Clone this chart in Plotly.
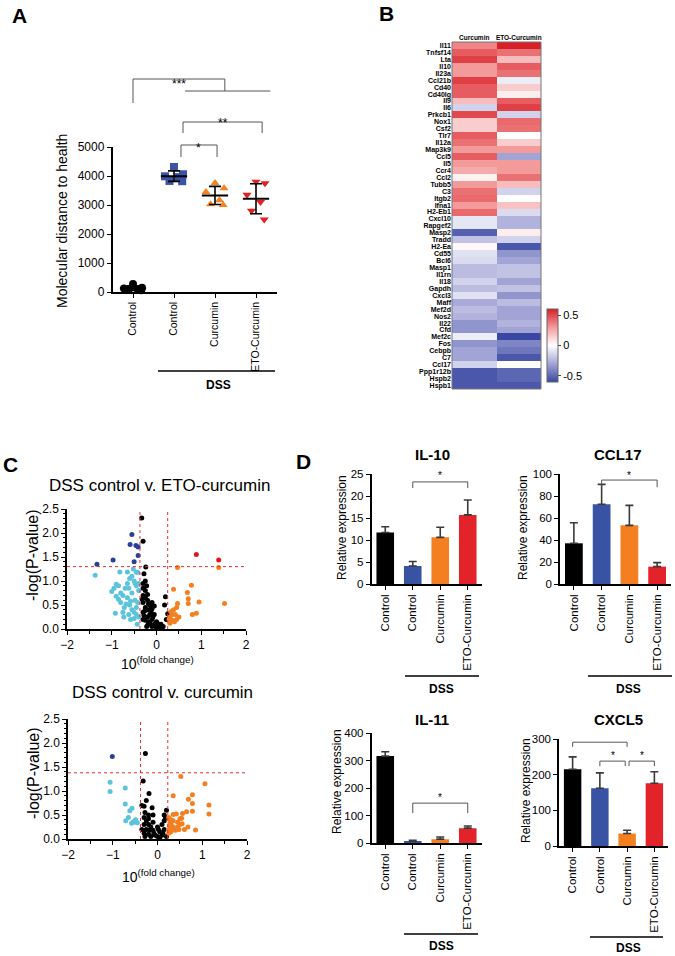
import plotly.graph_objects as go
import numpy as np

W, H = 675, 956
FONT = "Liberation Sans, Arial, sans-serif"


def px(x):
    return x / W


def py(y):
    return 1 - y / H


# ---------------- Panel A data ----------------
a_tick_labels = ["Control", "Control", "Curcumin", "ETO-Curcumin"]
a_healthy = [280, 150, 120, 100, 80, 60]
a_dss_control = [4310, 4060, 3990, 3960, 3830, 3820]
a_curcumin = [3760, 3580, 3450, 3160, 3000, 3030]
a_eto = [3800, 3750, 3350, 3100, 2800, 2500]
a_colors = ["#000000", "#3a53a4", "#f58220", "#e31e24"]
a_symbols = ["circle", "square", "triangle-up", "triangle-down"]

# ---------------- Panel B data ----------------
genes = ["Il11", "Tnfsf14", "Lta", "Il10", "Il23a", "Ccl21b", "Cd40", "Cd40lg", "Il9", "Il6",
         "Prkcb1", "Nox1", "Csf2", "Tlr7", "Il12a", "Map3k9", "Ccl5", "Il5", "Ccr4", "Ccl2",
         "Tubb5", "C3", "Itgb2", "Ifna1", "H2-Eb1", "Cxcl10", "Rapgef2", "Masp2", "Tradd", "H2-Ea",
         "Cd55", "Bcl6", "Masp1", "Il1rn", "Il18", "Gapdh", "Cxcl3", "Maff", "Mef2d", "Nos2",
         "Il22", "Cfd", "Mef2c", "Fos", "Cebpb", "C7", "Ccl17", "Ppp1r12b", "Hspb2", "Hspb1"]
heat_columns = ["Curcumin", "ETO-Curcumin"]
heat_curcumin = [0.35, 0.45, 0.52, 0.30, 0.30, 0.52, 0.45, 0.45, 0.20, -0.15,
                 0.50, 0.15, 0.15, 0.45, 0.40, 0.30, 0.45, 0.30, 0.25, 0.04,
                 0.30, 0.40, 0.42, 0.30, 0.42, -0.08, -0.08, -0.52, -0.20, 0.02,
                 -0.10, -0.12, -0.22, -0.22, -0.15, -0.22, -0.10, -0.28, -0.22, -0.25,
                 -0.35, -0.35, -0.06, -0.35, -0.30, -0.30, -0.15, -0.55, -0.55, -0.55]
heat_eto = [0.62, 0.40, 0.20, 0.45, 0.40, -0.06, 0.15, 0.05, 0.45, 0.52,
            -0.15, 0.42, 0.40, 0.00, 0.15, 0.30, -0.30, 0.30, 0.30, 0.40,
            0.20, -0.15, 0.00, 0.18, -0.12, -0.25, -0.25, 0.05, -0.15, -0.55,
            -0.35, -0.30, -0.20, -0.20, -0.30, -0.20, -0.35, -0.22, -0.30, -0.30,
            -0.25, -0.30, -0.60, -0.40, -0.45, -0.55, 0.00, -0.50, -0.50, -0.55]

# ---------------- Panel C data (fold change, -log P) ----------------
eto_sig_down = [(-1.33, 1.35), (-0.97, 1.44), (-0.55, 1.97), (-0.59, 1.76), (-0.46, 1.74),
                (-0.41, 1.71), (-0.41, 1.53), (-0.50, 1.40)]
eto_sig_up = [(0.89, 1.55), (1.39, 1.44)]
eto_down = [(-1.37, 1.12), (-0.82, 1.19), (-0.65, 1.19), (-0.52, 1.25), (-0.45, 1.18), (-0.42, 1.18),
            (-0.90, 0.93), (-0.85, 0.90), (-0.95, 0.85), (-1.00, 0.78), (-0.90, 0.68), (-0.70, 0.85),
            (-0.65, 0.95), (-0.60, 1.05), (-0.55, 1.10), (-0.50, 1.00), (-0.45, 0.90), (-0.40, 0.80),
            (-0.75, 0.70), (-0.80, 0.55), (-0.65, 0.65), (-0.55, 0.75), (-0.48, 0.60), (-0.42, 0.55),
            (-0.72, 0.45), (-0.60, 0.50), (-0.55, 0.40), (-0.50, 0.35), (-0.45, 0.45), (-0.92, 0.33),
            (-0.75, 0.35), (-0.62, 0.30), (-0.50, 0.22), (-0.45, 0.30), (-0.40, 0.25), (-0.73, 0.25),
            (-0.43, 0.10), (-0.58, 0.58), (-0.68, 0.52), (-0.80, 0.75), (-0.62, 0.85), (-0.48, 0.95),
            (-0.40, 0.95), (-0.85, 0.62), (-0.58, 0.20)]
eto_ns = [(-0.33, 2.31), (-0.30, 1.83), (-0.24, 1.29), (-0.28, 1.15), (-0.25, 1.00), (-0.30, 0.95),
          (-0.22, 0.90), (-0.30, 0.85), (-0.25, 0.80), (-0.20, 0.72), (-0.30, 0.70), (-0.25, 0.65),
          (-0.20, 0.60), (-0.10, 0.55), (-0.30, 0.55), (-0.15, 0.50), (-0.05, 0.48), (-0.25, 0.45),
          (-0.10, 0.42), (-0.20, 0.40), (0.20, 0.67), (0.18, 0.50), (0.25, 0.32), (0.22, 0.20),
          (-0.30, 0.35), (-0.15, 0.30), (-0.05, 0.30), (-0.20, 0.25), (-0.10, 0.20), (0.00, 0.15),
          (-0.25, 0.18), (-0.15, 0.12), (-0.05, 0.10), (0.05, 0.08), (0.10, 0.10), (0.15, 0.05),
          (-0.10, 0.05), (0.00, 0.02), (0.05, 0.03), (-0.20, 0.08), (-0.30, 0.20), (-0.12, 0.35),
          (-0.08, 0.25), (0.08, 0.05), (0.12, 0.02), (-0.02, 0.06), (0.02, 0.12), (-0.18, 0.15),
          (-0.28, 0.28), (-0.22, 0.05), (-0.32, 0.62), (-0.18, 0.52), (-0.26, 0.38), (-0.12, 0.45)]
eto_up = [(0.47, 1.28), (1.39, 1.28), (0.38, 0.83), (0.78, 0.91), (0.69, 0.76), (0.71, 0.63),
          (0.47, 0.53), (0.71, 0.53), (0.95, 0.56), (1.52, 0.53), (0.89, 0.33), (0.80, 0.30),
          (0.32, 0.36), (0.38, 0.40), (0.45, 0.45), (0.35, 0.30), (0.30, 0.25), (0.42, 0.30),
          (0.50, 0.25), (0.28, 0.20), (0.35, 0.18), (0.45, 0.20), (0.40, 0.15), (0.30, 0.12)]

cur_sig_down = [(-1.01, 1.72)]
cur_down = [(-1.06, 1.18), (-1.06, 0.99), (-0.72, 1.06), (-0.72, 0.73), (-0.57, 0.64), (-0.62, 0.59),
            (-0.71, 0.38), (-0.54, 0.36), (-0.49, 0.40), (-0.45, 0.34), (-0.58, 0.33), (-0.52, 0.35),
            (-0.65, 0.45)]
cur_ns = [(-0.27, 1.78), (-0.32, 1.21), (-0.19, 0.95), (-0.25, 0.80), (-0.35, 0.70), (-0.30, 0.68),
          (-0.12, 0.65), (-0.28, 0.55), (-0.20, 0.50), (-0.10, 0.50), (-0.30, 0.45), (-0.20, 0.42),
          (-0.25, 0.38), (0.15, 0.50), (0.20, 0.60), (0.18, 0.45), (0.15, 0.38), (-0.30, 0.30),
          (-0.20, 0.30), (-0.10, 0.35), (0.00, 0.25), (0.10, 0.30), (-0.15, 0.25), (-0.25, 0.20),
          (-0.10, 0.18), (0.05, 0.15), (0.15, 0.20), (-0.30, 0.12), (-0.20, 0.10), (-0.05, 0.08),
          (0.10, 0.08), (0.00, 0.05), (-0.15, 0.05), (0.05, 0.02), (0.20, 0.05), (-0.08, 0.12),
          (0.12, 0.12), (-0.35, 0.20), (-0.28, 0.05), (0.02, 0.20), (-0.18, 0.18)]
cur_up = [(0.52, 1.30), (1.06, 1.15), (0.35, 0.90), (0.69, 0.83), (0.78, 0.92), (0.78, 0.74),
          (1.15, 0.71), (1.15, 0.52), (0.78, 0.58), (0.65, 0.57), (0.56, 0.53), (0.42, 0.52),
          (0.35, 0.51), (0.54, 0.43), (0.30, 0.40), (0.45, 0.35), (0.50, 0.30), (0.55, 0.32),
          (0.30, 0.30), (0.35, 0.25), (0.45, 0.25), (0.60, 0.20), (0.25, 0.45), (0.28, 0.35),
          (0.25, 0.20), (0.30, 0.15), (0.40, 0.18), (0.48, 0.20), (0.68, 0.25), (0.85, 0.19),
          (0.25, 0.12), (0.30, 0.22), (0.35, 0.38), (0.50, 0.42), (0.27, 0.28)]
eto_cutoffs = (-0.37, 0.25, 1.30)
cur_cutoffs = (-0.38, 0.23, 1.38)
volc_colors = {"sig_down": "#2b3f99", "down": "#5cc3dc", "ns": "#000000",
               "up": "#f47f20", "sig_up": "#e3141b"}

# ---------------- Panel D data ----------------
d_tick_labels = ["Control", "Control", "Curcumin", "ETO-Curcumin"]
d_colors = ["#000000", "#3953a4", "#f47f20", "#e2232a"]
il10_mean = [11.7, 4.1, 10.6, 15.7]
il10_sem = [1.3, 1.0, 2.3, 3.4]
ccl17_mean = [37.0, 72.5, 53.3, 15.8]
ccl17_sem = [18.7, 18.1, 18.2, 3.6]
il11_mean = [316, 6, 14, 54]
il11_sem = [16, 4, 8, 8]
cxcl5_mean = [215, 162, 35, 176]
cxcl5_sem = [35, 43, 9, 32]

fig = go.Figure()
shapes = []
annotations = []


def ann(text, x, y, size, bold=False, angle=0, xanchor="center", yanchor="middle", color="black"):
    annotations.append(dict(text=f"<b>{text}</b>" if bold else text, x=px(x), y=py(y),
                            xref="paper", yref="paper", showarrow=False, textangle=angle,
                            xanchor=xanchor, yanchor=yanchor,
                            font=dict(size=size, family=FONT, color=color)))


def hline(x0, x1, y, width=1.5, color="black"):
    shapes.append(dict(type="line", xref="paper", yref="paper", x0=px(x0), x1=px(x1),
                       y0=py(y), y1=py(y), line=dict(color=color, width=width)))


axis_common = dict(showgrid=False, zeroline=False, showline=True, linecolor="black", linewidth=1.5,
                   ticks="outside", ticklen=4, tickwidth=1.2, tickcolor="black", automargin=False,
                   tickfont=dict(family=FONT, size=11, color="black"))

# ================= Panel A =================
groups_a = [a_healthy, a_dss_control, a_curcumin, a_eto]
for i, vals in enumerate(groups_a):
    vals = np.array(vals, dtype=float)
    n = len(vals)
    order = np.argsort(-vals)
    pattern = np.array([0.0, 0.22, -0.22, 0.11, -0.11, 0.2])
    offs = np.zeros(n)
    offs[order] = pattern[:n]
    fig.add_trace(go.Scatter(x=i + offs, y=vals, mode="markers", xaxis="x", yaxis="y",
                             marker=dict(symbol=a_symbols[i], color=a_colors[i], size=8),
                             showlegend=False, cliponaxis=False))
    m, sd = vals.mean(), vals.std(ddof=1)
    fig.add_trace(go.Scatter(x=[i - 0.32, i + 0.32], y=[m, m], mode="lines", xaxis="x", yaxis="y",
                             line=dict(color="black", width=2), showlegend=False))
    fig.add_trace(go.Scatter(x=[i], y=[m], mode="markers", xaxis="x", yaxis="y",
                             marker=dict(size=1, color="rgba(0,0,0,0)"),
                             error_y=dict(type="data", array=[sd], color="black", thickness=1.6, width=6),
                             showlegend=False, cliponaxis=False))

fig.update_layout(
    xaxis=dict(domain=[px(112.5), px(276.5)], range=[-0.5, 3.5], anchor="y",
               tickvals=list(range(4)), ticktext=a_tick_labels, tickangle=-90, **axis_common),
    yaxis=dict(domain=[py(292), py(147)], range=[0, 5000], anchor="x",
               tickvals=[0, 1000, 2000, 3000, 4000, 5000], **axis_common),
)
fig.layout.xaxis.tickfont.size = 10.5
fig.layout.yaxis.tickfont.size = 12


def bracket_a(x0, x1, ytop, ybot_left, ybot_right, color="#555555"):
    pts = [(x0, ybot_left), (x0, ytop), (x1, ytop), (x1, ybot_right)]
    for (xa, ya), (xb, yb) in zip(pts[:-1], pts[1:]):
        if ya == yb and xa == xb:
            continue
        shapes.append(dict(type="line", xref="x", yref="paper", x0=xa, x1=xb, y0=py(ya), y1=py(yb),
                           line=dict(color=color, width=1)))


bracket_a(0, 2.24, 79, 103, 91)
shapes.append(dict(type="line", xref="x", yref="paper", x0=1.27, x1=3.35, y0=py(91), y1=py(91),
                   line=dict(color="#555555", width=1)))
bracket_a(1.22, 3.15, 122, 133, 133)
bracket_a(1.17, 2.05, 145, 157, 157)
for txt, xd, yp in [("***", 1.12, 75), ("**", 2.2, 114), ("*", 1.6, 139)]:
    annotations.append(dict(text=txt, x=xd, y=py(yp), xref="x", yref="paper", showarrow=False,
                            font=dict(size=12, family=FONT, color="black")))
ann("Molecular distance to health", 62, 221, 14, angle=-90)
hline(158, 275, 371)
ann("DSS", 218, 385, 12, bold=True)
ann("A", 19, 15, 21, bold=True)

# ================= Panel B =================
z = [[c, e] for c, e in zip(heat_curcumin, heat_eto)]
fig.add_trace(go.Heatmap(
    z=z, x=heat_columns, y=genes, xaxis="x2", yaxis="y2", zmin=-0.6, zmax=0.6,
    colorscale=[[0, "#3848a2"], [0.25, "#a3a4d6"], [0.5, "#ffffff"], [0.75, "#f39a9a"], [1, "#d91f26"]],
    colorbar=dict(x=px(547), xanchor="left", y=py(345.5), yanchor="middle", len=73 / H,
                  lenmode="fraction", thickness=11, xpad=0, ypad=0, outlinewidth=1, outlinecolor="#666",
                  tickvals=[-0.5, 0, 0.5], ticktext=["-0.5", "0", "0.5"], ticks="outside", ticklen=3,
                  tickfont=dict(size=11, family=FONT, color="black")),
))
fig.update_layout(
    xaxis2=dict(domain=[px(452), px(541)], anchor="y2", side="top", showgrid=False, zeroline=False,
                ticks="", tickfont=dict(size=6.5, family=FONT, color="black", weight="bold"),
                showline=False, automargin=False),
    yaxis2=dict(domain=[py(389), py(42)], anchor="x2", autorange="reversed", showgrid=False,
                zeroline=False, ticks="", tickfont=dict(size=7, family=FONT, color="black", weight="bold"),
                dtick=1, showline=False, automargin=False),
)
shapes.append(dict(type="rect", xref="x2 domain", yref="y2 domain", x0=0, x1=1, y0=0, y1=1,
                   line=dict(color="#777777", width=1)))
ann("B", 386, 14, 21, bold=True)

# ================= Panel C =================
def volcano(xa, ya, groups, cutoffs, dom_x, dom_y):
    for key, pts in groups:
        xs, ys = zip(*pts)
        fig.add_trace(go.Scatter(x=list(xs), y=list(ys), mode="markers", xaxis=xa, yaxis=ya,
                                 marker=dict(color=volc_colors[key], size=5), showlegend=False,
                                 cliponaxis=False))
    lo, hi, pcut = cutoffs
    for xv in (lo, hi):
        shapes.append(dict(type="line", xref=xa, yref=ya, x0=xv, x1=xv, y0=0, y1=2.5,
                           line=dict(color="#e8312f", width=1, dash="dot")))
    shapes.append(dict(type="line", xref=xa, yref=ya, x0=-2, x1=2, y0=pcut, y1=pcut,
                       line=dict(color="#e8312f", width=1, dash="dot")))
    common = dict(axis_common)
    common["tickfont"] = dict(family=FONT, size=12, color="black")
    fig.layout[xa.replace("x", "xaxis")] = dict(
        domain=dom_x, range=[-2, 2], anchor=ya, tickvals=[-2, -1, 0, 1, 2],
        minor=dict(dtick=0.5, ticks="outside", ticklen=3, tickcolor="black"), **common)
    fig.layout[ya.replace("y", "yaxis")] = dict(
        domain=dom_y, range=[0, 2.5], anchor=xa, tickvals=[0, 0.5, 1, 1.5, 2, 2.5],
        ticktext=["0.0", "0.5", "1.0", "1.5", "2.0", "2.5"],
        minor=dict(dtick=0.1, ticks="outside", ticklen=2.5, tickcolor="black"), **common)


volcano("x3", "y3", [("down", eto_down), ("ns", eto_ns), ("up", eto_up),
                     ("sig_down", eto_sig_down), ("sig_up", eto_sig_up)],
        eto_cutoffs, [px(67), px(246)], [py(629), py(509)])
volcano("x4", "y4", [("down", cur_down), ("ns", cur_ns), ("up", cur_up), ("sig_down", cur_sig_down)],
        cur_cutoffs, [px(68), px(247)], [py(839), py(719)])
ann("DSS control v. ETO-curcumin", 159, 485, 17)
ann("DSS control v. curcumin", 162, 692, 17)
ann("-log(P-value)", 32, 555, 16, angle=-90)
ann("-log(P-value)", 33, 773, 16, angle=-90)
ann("10<sup>(fold change)</sup>", 157, 663, 14)
ann("10<sup>(fold change)</sup>", 158, 876, 14)
ann("C", 11, 465, 21, bold=True)

# ================= Panel D =================
def barpanel(xa, ya, means, sems, dom_x, dom_y, yrange, dtick):
    fig.add_trace(go.Bar(x=list(range(4)), y=means, xaxis=xa, yaxis=ya,
                         marker=dict(color=d_colors, line=dict(width=0)),
                         error_y=dict(type="data", symmetric=False, array=sems, arrayminus=[0] * 4,
                                      color="#3a3a3a", thickness=1.6, width=4),
                         showlegend=False))
    fig.layout[xa.replace("x", "xaxis")] = dict(
        domain=dom_x, range=[-0.5, 3.5], anchor=ya, tickvals=list(range(4)), ticktext=d_tick_labels,
        tickangle=-90, **axis_common)
    fig.layout[xa.replace("x", "xaxis")].tickfont.size = 11.5
    fig.layout[ya.replace("y", "yaxis")] = dict(
        domain=dom_y, range=yrange, anchor=xa, dtick=dtick, **axis_common)
    fig.layout[ya.replace("y", "yaxis")].tickfont.size = 11.5


def bracket(xa, ya, x0, x1, ytop, ybot, star, ystar):
    for (xA, yA, xB, yB) in [(x0, ybot, x0, ytop), (x0, ytop, x1, ytop), (x1, ytop, x1, ybot)]:
        shapes.append(dict(type="line", xref=xa, yref=ya, x0=xA, x1=xB, y0=yA, y1=yB,
                           line=dict(color="#555555", width=1)))
    annotations.append(dict(text=star, x=(x0 + x1) / 2, y=ystar, xref=xa, yref=ya, showarrow=False,
                            font=dict(size=10, family=FONT, color="black")))


barpanel("x5", "y5", il10_mean, il10_sem, [px(371.5), px(481.5)], [py(584), py(474)], [0, 25], 5)
barpanel("x6", "y6", ccl17_mean, ccl17_sem, [px(560), px(671)], [py(584), py(474)], [0, 100], 20)
barpanel("x7", "y7", il11_mean, il11_sem, [px(371.5), px(481.5)], [py(843), py(733)], [0, 400], 100)
barpanel("x8", "y8", cxcl5_mean, cxcl5_sem, [px(559), px(668)], [py(846), py(739)], [0, 300], 100)

bracket("x5", "y5", 1, 3, 23.2, 21.8, "*", 24.6)
bracket("x6", "y6", 1, 3, 94.5, 88, "*", 99)
bracket("x7", "y7", 1, 3, 145, 109, "*", 165)
bracket("x8", "y8", 0, 2, 291, 278, "**", 306)
bracket("x8", "y8", 1, 1.93, 238, 224, "*", 254)
bracket("x8", "y8", 2.07, 3, 238, 224, "*", 254)

ann("IL-10", 432, 454, 15, bold=True)
ann("CCL17", 618, 454, 15, bold=True)
ann("IL-11", 432, 719, 15, bold=True)
ann("CXCL5", 618, 719, 15, bold=True)
ann("Relative expression", 342, 528, 12, angle=-90)
ann("Relative expression", 523, 528, 12, angle=-90)
ann("Relative expression", 337, 782, 12, angle=-90)
ann("Relative expression", 526, 791, 12, angle=-90)
hline(405, 479, 676)
ann("DSS", 441, 689, 12, bold=True)
hline(588, 672, 676)
ann("DSS", 628, 689, 12, bold=True)
hline(404, 478, 934)
ann("DSS", 441, 946, 12, bold=True)
hline(590, 663, 937)
ann("DSS", 628, 948, 12, bold=True)
ann("D", 303, 462, 21, bold=True)

fig.update_layout(width=W, height=H, margin=dict(l=0, r=0, t=0, b=0, autoexpand=False), bargap=0.36,
                  paper_bgcolor="white", plot_bgcolor="rgba(0,0,0,0)",
                  font=dict(family=FONT, color="black"),
                  shapes=shapes, annotations=annotations, showlegend=False)

fig.write_html("out.html", config={"displayModeBar": False},
               post_script="document.body.style.margin='0';document.body.style.overflow='hidden';")
